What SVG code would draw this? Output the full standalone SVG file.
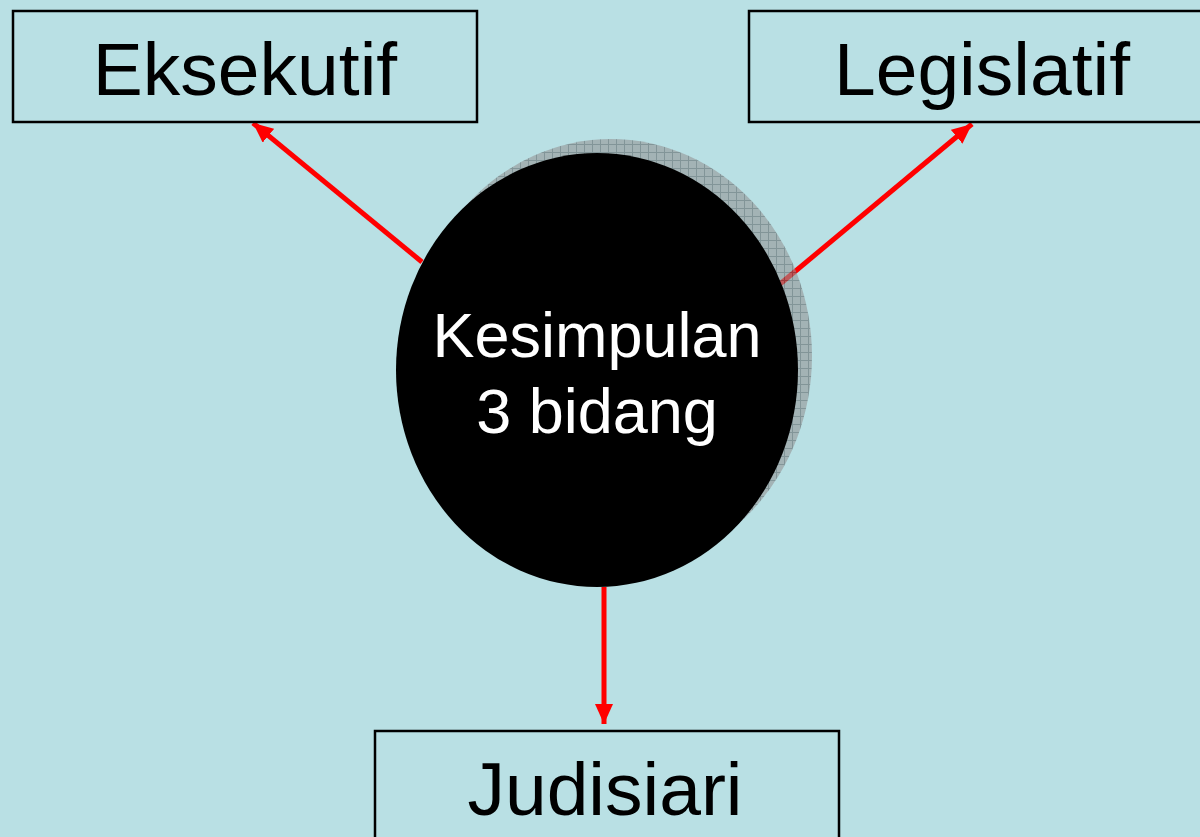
<svg xmlns="http://www.w3.org/2000/svg" width="1200" height="837" viewBox="0 0 1200 837">
<style>
.box{fill:#b9e0e4;stroke:#000;stroke-width:2.5}
.lbl{font-family:"Liberation Sans",Arial,sans-serif;font-size:75px;fill:#000;text-anchor:middle}
.ctr{font-family:"Liberation Sans",Arial,sans-serif;font-size:63px;fill:#fff;text-anchor:middle}
.conn{stroke:#ff0000;stroke-width:5;fill:none;marker-end:url(#ah)}
</style>
<defs>
<marker id="ah" markerUnits="userSpaceOnUse" markerWidth="22" markerHeight="18" refX="20" refY="9" orient="auto">
<path d="M0,0 L20,9 L0,18 Z" fill="#ff0000"/>
</marker>
<pattern id="hatch" width="8" height="8" patternUnits="userSpaceOnUse">
<rect width="8" height="8" fill="#949596"/>
<path d="M0,0.5 H8 M0.5,0 V8" stroke="#5e6365" stroke-width="1"/>
</pattern>
</defs>
<rect width="1200" height="837" fill="#b9e0e4"/>
<g id="connectors">
<line class="conn" x1="422" y1="262" x2="253" y2="123"/>
<line class="conn" x1="780" y1="284" x2="972" y2="124"/>
<line class="conn" x1="604" y1="587" x2="604" y2="724"/>
</g>
<g id="node-kesimpulan">
<ellipse cx="611" cy="356" rx="201" ry="217" fill="url(#hatch)" opacity="0.6"/>
<ellipse cx="597" cy="370" rx="201" ry="217" fill="#000"/>
<text class="ctr" x="597" y="357">Kesimpulan</text>
<text class="ctr" x="597" y="433">3 bidang</text>
</g>
<g id="node-eksekutif">
<rect class="box" x="13" y="11" width="464" height="111"/>
<text class="lbl" x="245" y="95">Eksekutif</text>
</g>
<g id="node-legislatif">
<rect class="box" x="749" y="11" width="470" height="111"/>
<text class="lbl" x="982" y="95">Legislatif</text>
</g>
<g id="node-judisiari">
<rect class="box" x="375" y="731" width="464" height="130"/>
<text class="lbl" x="605" y="815">Judisiari</text>
</g>
</svg>
